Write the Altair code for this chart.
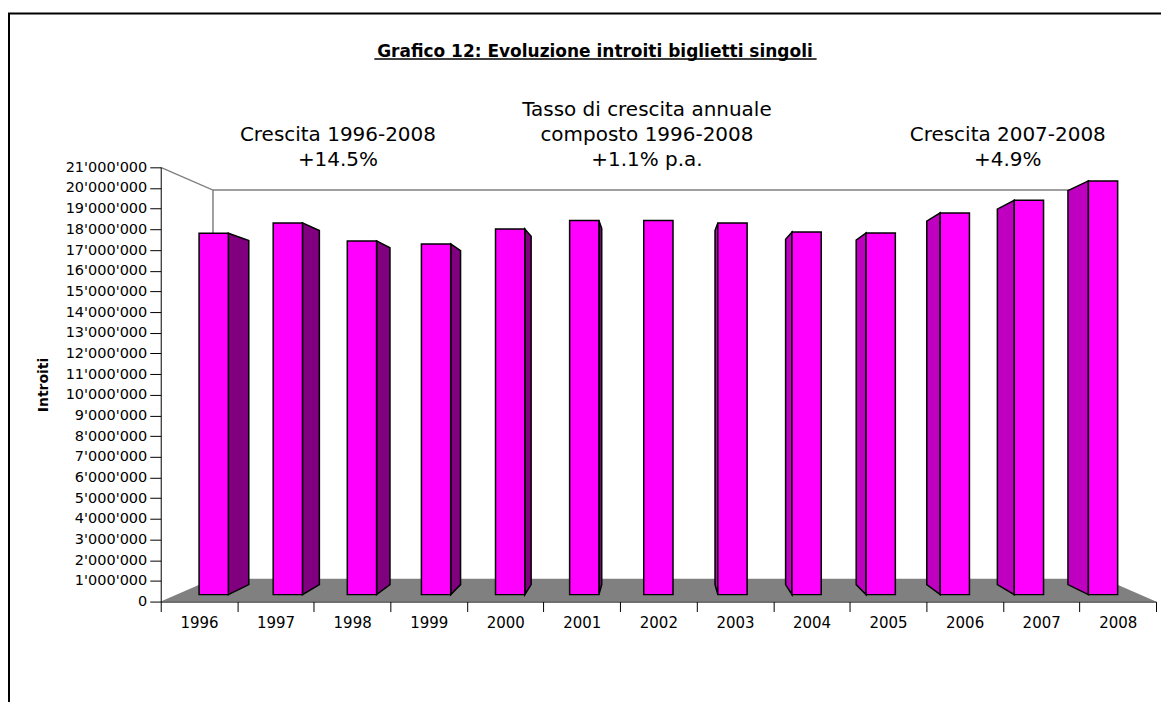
import altair as alt
import pandas as pd

# ---------------- data ----------------
years = [1996, 1997, 1998, 1999, 2000, 2001, 2002, 2003, 2004, 2005, 2006, 2007, 2008]
introiti = [18050000, 18570000, 17670000, 17520000, 18270000, 18690000, 18690000,
            18570000, 18110000, 18070000, 19070000, 19700000, 20670000]
y_ticks = list(range(0, 21000001, 1000000))
title_text = "Grafico 12: Evoluzione introiti biglietti singoli"
ann_left = ["Crescita 1996-2008", "+14.5%"]
ann_mid = ["Tasso di crescita annuale", "composto 1996-2008", "+1.1% p.a."]
ann_right = ["Crescita 2007-2008", "+4.9%"]

# ---------------- 3D-look projection (in data units) ----------------
W, H = 997, 435
N = len(years)
YMAX = 21000000
CX, CY = N / 2.0, YMAX / 2.0      # vanishing centre = middle of plot
K_BACK = 0.895                    # scale of back wall plane
F1, F2 = 0.968, 0.922             # front / back planes of the bars
HW = 0.1975                       # half bar width (category units)


def px(x, f):
    return CX + f * (x - CX)


def py(v, f):
    return CY + f * (v - CY)


front_rows, side_rows = [], []
for i, (yr, v) in enumerate(zip(years, introiti)):
    c = i + 0.5
    front_rows.append({"year": yr, "x": px(c - HW, F1), "x2": px(c + HW, F1),
                       "y": py(0, F1), "y2": py(v, F1)})
    if c + HW < CX:
        xe, col = c + HW, "#800080"
    elif c - HW > CX:
        xe, col = c - HW, "#C000C0"
    else:
        continue
    for f in (F1, F2):
        side_rows.append({"year": yr, "fill": col, "x": px(xe, f),
                          "y": py(v, f), "y2": py(0, f)})

front_df = pd.DataFrame(front_rows)
side_df = pd.DataFrame(side_rows)

floor_df = pd.DataFrame({
    "x": [0, px(0, K_BACK), px(N, K_BACK), N],
    "y": [0, py(0, K_BACK), py(0, K_BACK), 0],
    "y2": [0, 0, 0, 0],
})
wall_df = pd.DataFrame({
    "seg": ["a", "a", "a", "b", "b"],
    "o": [0, 1, 2, 0, 1],
    "x": [0, px(0, K_BACK), px(N, K_BACK), px(0, K_BACK), px(0, K_BACK)],
    "y": [YMAX, py(YMAX, K_BACK), py(YMAX, K_BACK), py(YMAX, K_BACK), py(0, K_BACK)],
})

# ---------------- scales & axes ----------------
FONT = "DejaVu Sans"
xscale = alt.Scale(domain=[0, N], nice=False, zero=False)
yscale = alt.Scale(domain=[0, YMAX], nice=False)

years_js = "[" + ",".join("'%d'" % y for y in years) + "]"
xaxis = alt.Axis(values=list(range(N + 1)),
                 labelExpr="datum.value < %d ? %s[datum.value] : ''" % (N, years_js),
                 labelOffset=W / N / 2.0, labelFlush=False, labelOverlap=False,
                 labelFont=FONT, labelFontSize=15, labelColor="black", labelPadding=4,
                 tickSize=10, tickColor="black", domainColor="black", grid=False,
                 title=None, zindex=1)
yaxis = alt.Axis(values=y_ticks,
                 labelExpr="replace(format(datum.value, ','), regexp(',', 'g'), \"'\")",
                 labelFont=FONT, labelFontSize=14.5, labelColor="black", labelPadding=3,
                 tickSize=11, tickColor="black", domainColor="black", grid=False,
                 title="Introiti", titleFont=FONT, titleFontSize=14, titleFontWeight="bold",
                 titleColor="black", titleX=-110, titleY=H / 2.0, titleAngle=270,
                 titleBaseline="bottom", zindex=1)


def X(f="x"):
    return alt.X(f + ":Q", scale=xscale, axis=xaxis)


def Y(f="y"):
    return alt.Y(f + ":Q", scale=yscale, axis=yaxis)


one = alt.Data(values=[{"k": 1}])

frame = alt.Chart(one).mark_rect(filled=False, stroke="black", strokeWidth=2).encode(
    x=alt.value(-152), x2=alt.value(1200), y=alt.value(-154), y2=alt.value(800))

wall = alt.Chart(wall_df).mark_line(color="#808080", strokeWidth=1.5).encode(
    x=X(), y=Y(), detail="seg:N", order="o:Q")

floor = alt.Chart(floor_df).mark_area(color="#808080").encode(
    x=X(), y=Y(), y2="y2:Q")

sides = alt.Chart(side_df).mark_area(stroke="black", strokeWidth=1.5).encode(
    x=X(), y=Y(), y2="y2:Q", detail="year:N", fill=alt.Fill("fill:N", scale=None))

fronts = alt.Chart(front_df).mark_rect(fill="#FF00FF", stroke="black", strokeWidth=1.5).encode(
    x=X(), x2="x2:Q", y=Y(), y2="y2:Q")

title = alt.Chart(one).mark_text(text=title_text, font=FONT, fontSize=17, fontWeight="bold",
                                 color="black", align="center", baseline="alphabetic").encode(
    x=alt.value(435), y=alt.value(-111))
underline = alt.Chart(one).mark_rule(color="black", strokeWidth=1.5).encode(
    x=alt.value(214), x2=alt.value(657), y=alt.value(-108.5))

ann_layers = []
for lines, cx, y0 in ((ann_left, 177.5, -26), (ann_mid, 487, -51), (ann_right, 848.5, -26)):
    for j, t in enumerate(lines):
        ann_layers.append(
            alt.Chart(one).mark_text(text=t, font=FONT, fontSize=20, color="black",
                                     align="center", baseline="alphabetic").encode(
                x=alt.value(cx), y=alt.value(y0 + 25 * j)))

chart = alt.layer(frame, wall, floor, sides, fronts, title, underline, *ann_layers).properties(
    width=W, height=H,
    padding={"left": 153, "top": 159, "right": 5, "bottom": 100},
    autosize=alt.AutoSizeParams(type="none"),
    background="white",
).configure_view(strokeWidth=0)

chart.save("out.html", embed_options={"renderer": "svg", "actions": False})
